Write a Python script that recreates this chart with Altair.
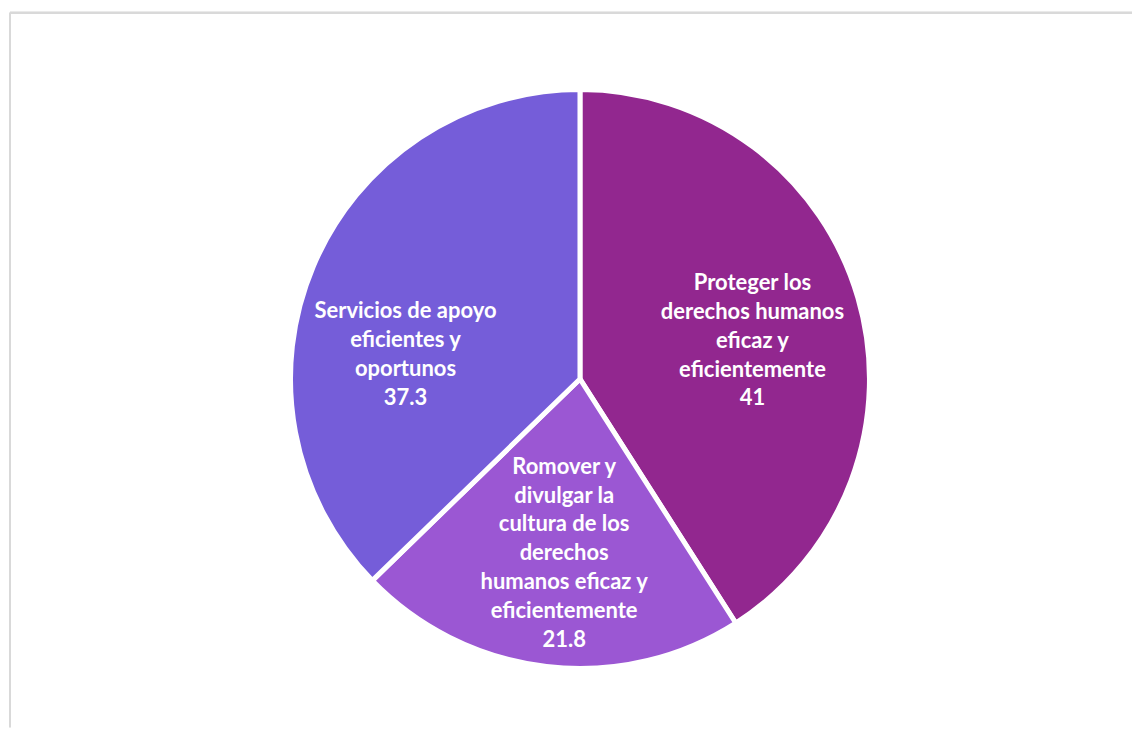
import altair as alt
import pandas as pd

categories = [
    "Proteger los\nderechos humanos\neficaz y\neficientemente",
    "Romover y\ndivulgar la\ncultura de los\nderechos\nhumanos eficaz y\neficientemente",
    "Servicios de apoyo\neficientes y\noportunos",
]
values = [41, 21.8, 37.3]
value_labels = ["41", "21.8", "37.3"]
colors = ["#92278F", "#9B57D3", "#755DD9"]

df = pd.DataFrame({
    "cat": categories,
    "val": values,
    "order": [0, 1, 2],
    "label": [c + "\n" + v for c, v in zip(categories, value_labels)],
})
total = float(sum(values))

W, H = 1124, 716
CX, CY = 571, 367
LH = 29

theta_scale = alt.Scale(domain=[0, total], zero=True)

base = alt.Chart(df).transform_stack(
    stack="val", as_=["v0", "v1"], groupby=[], sort=[alt.SortField("order")]
).transform_calculate(vm="(datum.v0 + datum.v1) / 2")

pie = base.mark_arc(radius=290, stroke="white", strokeWidth=5).encode(
    theta=alt.Theta("v0:Q", scale=theta_scale, stack=None),
    theta2="v1:Q",
    color=alt.Color("cat:N", scale=alt.Scale(domain=categories, range=colors), legend=None),
    x=alt.value(CX), y=alt.value(CY),
)

# per-label offsets (multi-line block centering + small nudges)
offsets = [(0, -46), (5, -91), (-9, 2)]
texts = []
for cat, (dx, dy) in zip(categories, offsets):
    t = base.transform_filter(alt.datum.cat == cat).mark_text(
        radius=180, font="Lato", fontSize=22, fontWeight="bold", color="white",
        lineBreak="\n", lineHeight=LH, align="center", baseline="middle",
        dx=dx, dy=dy,
    ).encode(
        theta=alt.Theta("vm:Q", scale=theta_scale, stack=None),
        text="label:N", x=alt.value(CX), y=alt.value(CY),
    )
    texts.append(t)

frame_top = alt.Chart(df).mark_rule(color="#D9D9D9", strokeWidth=2).encode(
    x=alt.value(0), x2=alt.value(W), y=alt.value(0)
)
frame_left = alt.Chart(df).mark_rule(color="#D9D9D9", strokeWidth=2).encode(
    x=alt.value(0), y=alt.value(0), y2=alt.value(H)
)

chart = alt.layer(frame_top, frame_left, pie, *texts).properties(
    width=W, height=H,
    padding={"left": 1, "top": 3, "right": 0, "bottom": 0},
).configure_view(stroke=None)

chart.save("out.html", embed_options={"renderer": "svg", "actions": False})
